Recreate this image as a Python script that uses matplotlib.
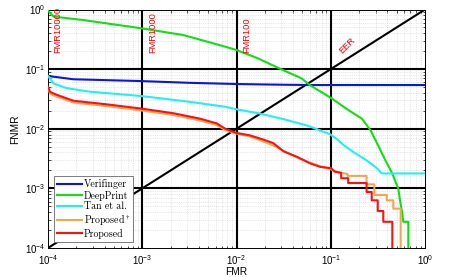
import matplotlib
matplotlib.use("Agg")
import matplotlib.pyplot as plt
from matplotlib.ticker import LogLocator, NullFormatter

plt.rcParams['font.family'] = ['Liberation Sans', 'DejaVu Sans']
plt.rcParams['mathtext.fontset'] = 'cm'

# courbes DET (FMR, FNMR)
fmr_vf = [1e-4, 1.86e-4, 9.5e-4, 3.2e-3, 1.05e-2, 3.2e-2, 6.3e-2, 1.0]
fnmr_vf = [0.0767, 0.0676, 0.0631, 0.0589, 0.0562, 0.0547, 0.0541, 0.0541]

fmr_dp = [1e-4, 1.15e-4, 2.34e-4, 9.86e-4, 2.75e-3, 7.59e-3, 1e-2, 1.70e-2, 2.88e-2, 4.90e-2,
          6.03e-2, 0.102, 0.155, 0.214, 0.263, 0.309, 0.380, 0.450, 0.521, 0.543, 0.566, 0.589,
          0.665, 0.665]
fnmr_dp = [0.955, 0.759, 0.667, 0.483, 0.372, 0.238, 0.209, 0.151, 0.102, 0.070,
           0.0537, 0.0324, 0.0204, 0.0148, 0.00955, 0.00575, 0.00295, 0.00178, 0.00098, 0.00063,
           0.000437, 0.000275, 0.000275, 5e-5]

fmr_tan = [1e-4, 1.15e-4, 1.58e-4, 2.82e-4, 9.55e-4, 3.24e-3, 7.59e-3, 1.05e-2, 1.70e-2, 3.16e-2,
           5.75e-2, 9.77e-2, 0.120, 0.136, 0.174, 0.240, 0.282, 0.308, 0.347, 1.0]
fnmr_tan = [0.0767, 0.0575, 0.0479, 0.0417, 0.0355, 0.0282, 0.0234, 0.0209, 0.0182, 0.0145,
            0.0112, 0.00813, 0.00646, 0.00537, 0.00407, 0.00295, 0.00245, 0.00219, 0.00178, 0.00178]

fmr_prop = [1e-4, 1.05e-4, 1.23e-4, 1.86e-4, 4.17e-4, 9.55e-4, 2.14e-3, 4.07e-3, 6.17e-3, 7.59e-3,
            1e-2, 1.38e-2, 1.91e-2, 2.45e-2, 3.16e-2, 4.37e-2, 6.03e-2, 7.76e-2, 0.1, 0.111,
            0.129, 0.129, 0.153, 0.153, 0.240, 0.240, 0.272, 0.272, 0.315, 0.315,
            0.361, 0.361, 0.450, 0.450]
fnmr_prop = [0.0507, 0.0417, 0.0372, 0.0295, 0.0257, 0.0219, 0.0182, 0.0148, 0.0123, 0.0100,
             0.00851, 0.00776, 0.00661, 0.00575, 0.00417, 0.00339, 0.00263, 0.00229, 0.00219, 0.00191,
             0.00182, 0.00148, 0.00148, 0.00123, 0.00123, 0.00087, 0.00087, 0.00063, 0.00063, 0.000417,
             0.000417, 0.000275, 0.000275, 5e-5]

fmr_dag = [1e-4, 1.05e-4, 1.23e-4, 1.86e-4, 4.17e-4, 9.55e-4, 2.14e-3, 4.07e-3, 6.17e-3, 7.59e-3,
           1e-2, 1.38e-2, 1.91e-2, 2.45e-2, 3.16e-2, 4.37e-2, 6.03e-2, 7.76e-2, 0.1, 0.111,
           0.151, 0.151, 0.240, 0.240, 0.290, 0.290, 0.393, 0.393, 0.461, 0.461, 0.552, 0.552]
fnmr_dag = [0.0479, 0.0389, 0.0347, 0.0275, 0.0240, 0.0204, 0.0170, 0.0138, 0.0115, 0.00955,
            0.00832, 0.00741, 0.00617, 0.00525, 0.00427, 0.00331, 0.00269, 0.00234, 0.00209, 0.00191,
            0.00174, 0.00162, 0.00162, 0.00117, 0.00117, 0.000776, 0.000776, 0.00063, 0.00063, 0.000457,
            0.000457, 5e-5]

ref_lines = [1e-3, 1e-2, 1e-1]
fmr_marks = ['FMR10000', 'FMR1000', 'FMR100']
fmr_mark_x = [1.27e-4, 1.28e-3, 1.30e-2]

fig = plt.figure(figsize=(4.49, 2.77), dpi=100)
ax = fig.add_axes([48 / 449, 29 / 277, 377 / 449, 238.5 / 277])
ax.set_xscale('log')
ax.set_yscale('log')
ax.set_xlim(1e-4, 1)
ax.set_ylim(1e-4, 1)

ax.grid(which='both', color='0.82', linestyle=':', linewidth=0.5)
for v in ref_lines:
    ax.axvline(v, color='black', lw=1.5, zorder=2)
    ax.axhline(v, color='black', lw=1.5, zorder=2)
ax.plot([1e-4, 1], [1e-4, 1], color='black', lw=1.5, zorder=2)

lw = 1.5
h_vf, = ax.plot(fmr_vf, fnmr_vf, color='#0a14e6', lw=lw, zorder=3)
h_dp, = ax.plot(fmr_dp, fnmr_dp, color='#10e010', lw=lw, zorder=3)
h_tan, = ax.plot(fmr_tan, fnmr_tan, color='#20f0f0', lw=lw, zorder=3)
h_dag, = ax.plot(fmr_dag, fnmr_dag, color='#f2a650', lw=lw, zorder=3)
h_prop, = ax.plot(fmr_prop, fnmr_prop, color='#ff1010', lw=lw, zorder=3)

for x, t in zip(fmr_mark_x, fmr_marks):
    ax.text(x, 0.184, t, rotation=90, color='red', fontsize=6.7, ha='center', va='bottom', zorder=4)
ax.text(0.149, 0.246, 'EER', rotation=45, color='red', fontsize=6.7, ha='center', va='center', zorder=4)

ax.xaxis.set_major_locator(LogLocator(base=10, numticks=10))
ax.yaxis.set_major_locator(LogLocator(base=10, numticks=10))
ax.xaxis.set_minor_locator(LogLocator(base=10, subs=range(2, 10), numticks=10))
ax.yaxis.set_minor_locator(LogLocator(base=10, subs=range(2, 10), numticks=10))
ax.xaxis.set_minor_formatter(NullFormatter())
ax.yaxis.set_minor_formatter(NullFormatter())
ax.tick_params(which='both', direction='in', top=True, right=True, labelsize=7, width=0.5)
ax.tick_params(which='major', length=3.5, pad=2)
ax.tick_params(axis='x', which='major', pad=3.5)
ax.tick_params(which='minor', length=1.8)
for s in ax.spines.values():
    s.set_linewidth(0.7)

ax.set_xlabel('FMR', fontsize=7.3, labelpad=0)
ax.set_ylabel('FNMR', fontsize=7.3, labelpad=3)

leg = ax.legend([h_vf, h_dp, h_tan, h_dag, h_prop],
                ['Verifinger', 'DeepPrint', 'Tan et al.', r'Proposed$^\dagger$', 'Proposed'],
                loc='lower left', bbox_to_anchor=(0.015, 0.027), borderaxespad=0,
                prop={'family': 'cmr10', 'size': 7.1}, handlelength=2.6, handletextpad=0.15,
                labelspacing=0.12, borderpad=0.3, fancybox=False, framealpha=1, edgecolor='0.4')
leg.get_frame().set_linewidth(0.6)
leg.set_zorder(5)

fig.savefig('out.png', dpi=100)
